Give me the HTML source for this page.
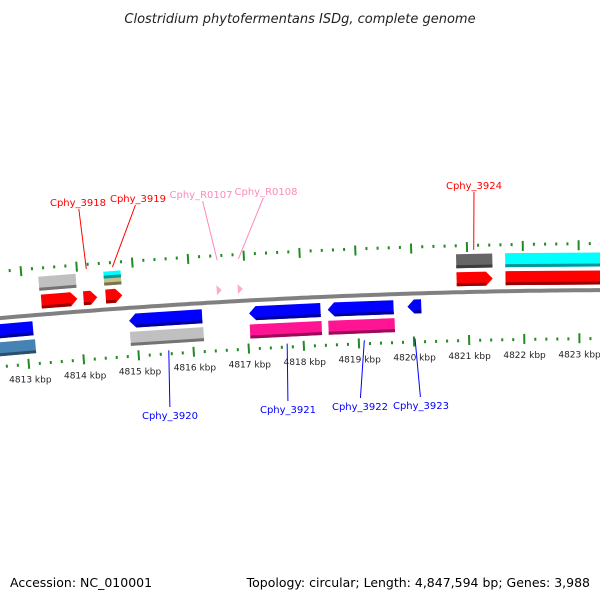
<!DOCTYPE html>
<html><head><meta charset="utf-8"><style>
html,body{margin:0;padding:0;background:#fff;}
svg{display:block;font-family:"DejaVu Sans","Liberation Sans",sans-serif;}
</style></head><body>
<svg id="chart" width="600" height="600" viewBox="0 0 600 600" xmlns="http://www.w3.org/2000/svg">
<text x="300" y="23" text-anchor="middle" font-size="13" font-style="italic" fill="#222">Clostridium phytofermentans ISDg, complete genome</text>
<g id="ticks"></g>
<path id="backbone" fill="none" stroke="#808080" stroke-width="4"></path>
<g id="genes"></g>
<g id="labels"></g>
<text x="10" y="587" font-size="12.5" fill="#000">Accession: NC_010001</text>
<text x="590" y="587" text-anchor="end" font-size="12.5" fill="#000">Topology: circular; Length: 4,847,594 bp; Genes: 3,988</text>
</svg>
<script>
// data
const tickKbp = [4812, 4813, 4814, 4815, 4816, 4817, 4818, 4819, 4820, 4821, 4822, 4823, 4824];
const geneStart = [4813.32, 4814.08, 4814.48, 4820.80, 4821.68, 4813.30, 4814.47, 4814.47, 4820.80, 4821.68, 4812.3, 4814.87, 4817.04, 4818.46, 4819.90, 4812.3, 4814.87, 4817.04, 4818.46, 4816.48, 4816.86];
const geneEnd   = [4813.97, 4814.33, 4814.78, 4821.45, 4824.5, 4813.97, 4814.78, 4814.78, 4821.45, 4824.5, 4813.13, 4816.19, 4818.33, 4819.65, 4820.15, 4813.15, 4816.20, 4818.34, 4819.66, 4816.57, 4816.95];
const geneStrand= [1,1,1,1,1, 0,0,0,0,0, -1,-1,-1,-1,-1, 0,0,0,0, 1,1];
const geneRow   = [1,1,1,1,1, 2,3,4,2,2, 1,1,1,1,1, 2,2,2,2, 5,5];
const geneColor = ['#ff0000','#ff0000','#ff0000','#ff0000','#ff0000','#c0c0c0','#c8c088','#00ffff','#666666','#00ffff','#0000ff','#0000ff','#0000ff','#0000ff','#0000ff','#4682b4','#c0c0c0','#ff1493','#ff1493','#ffaacc','#ffaacc'];
const labelText = ['Cphy_3918','Cphy_3919','Cphy_R0107','Cphy_R0108','Cphy_3924','Cphy_3920','Cphy_3921','Cphy_3922','Cphy_3923'];
const labelKbp  = [4814.17, 4814.64, 4816.52, 4816.90, 4821.12, 4815.55, 4817.70, 4819.10, 4820.02];
const labelColor= ['#ff0000','#ff0000','#ff88bb','#ff88bb','#ff0000','#0000ff','#0000ff','#0000ff','#0000ff'];
const labelTx   = [78, 138, 201, 266, 474, 170, 288, 360, 421];
const labelTy   = [206, 202, 198, 195, 189, 419, 413, 410, 409];

const NS='http://www.w3.org/2000/svg';
const CX=640, R=7300, CY=290+R, PX=55.5;
const PC=4813+(CX-24)/PX;
function pt(p, off){ const th=(p-PC)*PX/R, r=R+off; return [CX+r*Math.sin(th), CY-r*Math.cos(th)]; }
function mk(tag, attrs, parent){ const e=document.createElementNS(NS,tag); for(const k in attrs) e.setAttribute(k,attrs[k]); parent.appendChild(e); return e; }

// backbone
let d=''; for(let p=4812; p<=4825; p+=0.1){ const q=pt(p,0); d+=(d?'L':'M')+q[0].toFixed(1)+','+q[1].toFixed(1); }
document.getElementById('backbone').setAttribute('d', d);

// ticks
const tg=document.getElementById('ticks');
for(let i=0;i<tickKbp.length-1;i++){
  for(let j=0;j<5;j++){
    const p=tickKbp[i]+j*0.2, major=(j===0);
    const pairs = major ? [[40,50],[-43,-53]] : [[45,48],[-47,-50]];
    pairs.forEach(o=>{
      const a=pt(p,o[0]), b=pt(p,o[1]);
      const l=mk('line',{x1:a[0],y1:a[1],x2:b[0],y2:b[1],stroke:'#228b22','stroke-width':2},tg);
      
      
    });
  }
  const lp=pt(tickKbp[i],-67);
  const t=mk('text',{x:lp[0],y:lp[1],'text-anchor':'middle','font-size':9,fill:'#222'},tg);
  t.textContent=tickKbp[i]+' kbp';
  
  
}

// genes
const rows={1:[6,20],2:[24,38],3:[24,31],4:[31,38],5:[7,17]};
const gg=document.getElementById('genes');
function shade(c,f){ const n=parseInt(c.slice(1),16); let r=(n>>16)&255,g=(n>>8)&255,b=n&255; return 'rgb('+Math.round(r*f)+','+Math.round(g*f)+','+Math.round(b*f)+')'; }
for(let i=0;i<geneStart.length;i++){
  const s=geneStart[i], e=geneEnd[i], st=geneStrand[i];
  let [a,b]=rows[geneRow[i]];
  const sign = (st<0 || (st===0 && i>=15) || (i>=10 && i<15)) ? -1 : 1;
  const lo=a*sign, hi=b*sign;
  const mid=(lo+hi)/2, ah=0.12;
  let pts=[];
  if(geneRow[i]===5){ pts=[pt(s,lo),pt(e,mid),pt(s,hi)]; }
  else if(st===1){ pts=[pt(s,lo),pt(e-ah,lo),pt(e,mid),pt(e-ah,hi),pt(s,hi)]; }
  else if(st===-1){ pts=[pt(s,mid),pt(s+ah,lo),pt(e,lo),pt(e,hi),pt(s+ah,hi)]; }
  else { pts=[pt(s,lo),pt(e,lo),pt(e,hi),pt(s,hi)]; }
  const g=mk('polygon',{points:pts.map(q=>q[0].toFixed(1)+','+q[1].toFixed(1)).join(' '),fill:geneColor[i]},gg);
  
  
  const s2 = st===-1 ? s+ah : s, e2 = st===1 ? e-ah : e;
  if(geneRow[i]!==5){
    const yb = sign>0 ? [lo, lo+3] : [hi+3, hi];
    const bp=[pt(s2,yb[0]),pt(e2,yb[0]),pt(e2,yb[1]),pt(s2,yb[1])];
    const band=mk('polygon',{points:bp.map(q=>q[0].toFixed(1)+','+q[1].toFixed(1)).join(' '),fill:shade(geneColor[i],0.6)},gg);
    
    
  }
}

// labels
const lg=document.getElementById('labels');
for(let i=0;i<labelText.length;i++){
  const top=i<5;
  const a=pt(labelKbp[i], top?42:-45);
  const ly= top ? labelTy[i]+3 : labelTy[i]-12;
  const l=mk('line',{x1:labelTx[i]+(a[0]-labelTx[i])*0.1,y1:ly,x2:a[0],y2:a[1],stroke:labelColor[i],'stroke-width':1},lg);
  
  
  const t=mk('text',{x:labelTx[i],y:labelTy[i],'text-anchor':'middle','font-size':10,fill:labelColor[i]},lg);
  t.textContent=labelText[i];
  
  
}
</script>
</body></html>
